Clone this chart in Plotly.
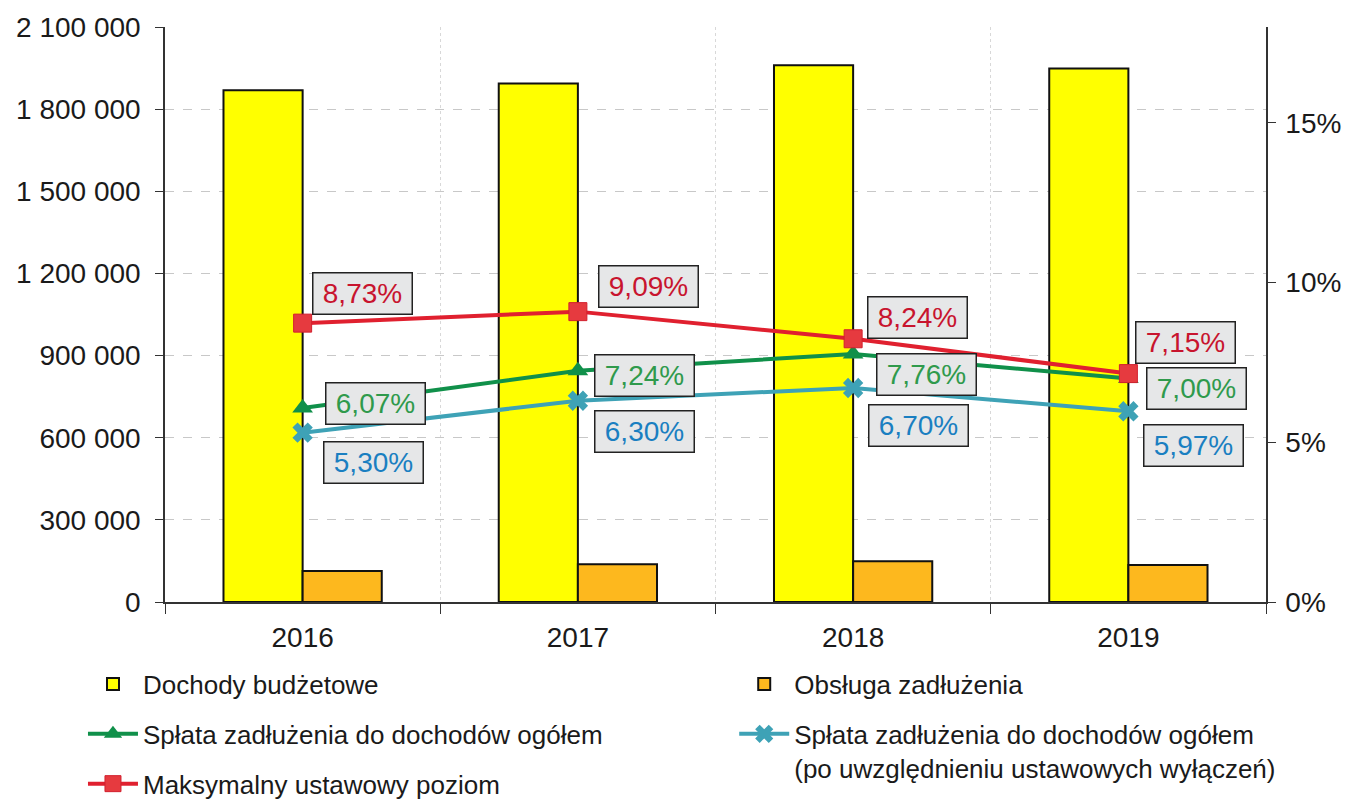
import plotly.graph_objects as go

years = ["2016", "2017", "2018", "2019"]
dochody = [1869000, 1894000, 1960000, 1948000]
obsluga = [113000, 138000, 149000, 135000]
splata = [6.07, 7.24, 7.76, 7.00]
splata_wyl = [5.30, 6.30, 6.70, 5.97]
maks = [8.73, 9.09, 8.24, 7.15]

left_ticks = [0, 300000, 600000, 900000, 1200000, 1500000, 1800000, 2100000]
right_ticks = [0, 5, 10, 15]
right_labels = [f"{v}%" for v in right_ticks]

# label offsets (px) relative to the point
red_off = [(60, 30), (71, 25), (64, 21), (57, 31)]
green_off = [(73, 5), (67, -5), (73, -20), (68, -10)]
cyan_off = [(71, -30), (67, -31), (65, -38), (65, -34)]

RED = "#e0202f"
GREEN = "#10904a"
CYAN = "#3ea2b6"
FONT = "Liberation Sans, Arial, sans-serif"

fig = go.Figure()
fig.add_trace(go.Bar(x=years, y=dochody, name="Dochody budżetowe",
                     marker=dict(color="#ffff00", line=dict(color="#111111", width=2)),
                     legend="legend", legendgroup="a"))
fig.add_trace(go.Bar(x=years, y=obsluga, name="Obsługa zadłużenia",
                     marker=dict(color="#fdb81e", line=dict(color="#111111", width=2)),
                     legend="legend2", legendgroup="b"))
fig.add_trace(go.Scatter(x=years, y=splata, yaxis="y2", mode="lines+markers",
                         name="Spłata zadłużenia do dochodów ogółem",
                         line=dict(color=GREEN, width=4),
                         marker=dict(symbol="triangle-up", size=18, color=GREEN),
                         legend="legend", legendgroup="c"))
fig.add_trace(go.Scatter(x=years, y=splata_wyl, yaxis="y2", mode="lines+markers",
                         name="Spłata zadłużenia do dochodów ogółem<br>(po uwzględnieniu ustawowych wyłączeń)",
                         line=dict(color=CYAN, width=4),
                         marker=dict(symbol="x", size=18, color=CYAN),
                         legend="legend2", legendgroup="d"))
fig.add_trace(go.Scatter(x=years, y=maks, yaxis="y2", mode="lines+markers",
                         name="Maksymalny ustawowy poziom",
                         line=dict(color=RED, width=4),
                         marker=dict(symbol="square", size=18, color="#e63a3f",
                                     line=dict(color="#d2202e", width=1)),
                         legend="legend", legendgroup="e"))

def fmt(v):
    return f"{v:.2f}".replace(".", ",") + "%"

anns = []
for vals, offs, col in [(maks, red_off, "#c8142e"), (splata, green_off, "#2f9a4c"),
                        (splata_wyl, cyan_off, "#1a7fc1")]:
    for i, (v, (dx, dy)) in enumerate(zip(vals, offs)):
        anns.append(dict(x=i, y=v, xref="x", yref="y2", text=fmt(v), showarrow=False,
                         xshift=dx, yshift=dy, width=96, height=38,
                         font=dict(family=FONT, size=28, color=col),
                         bgcolor="#e6e7e8", bordercolor="#222222", borderwidth=1.5,
                         borderpad=1))

fig.update_layout(
    width=1346, height=793,
    margin=dict(l=157, r=88, t=19, b=199, autoexpand=False),
    paper_bgcolor="white", plot_bgcolor="white",
    separators=", ",
    barmode="group", bargap=0.425, bargroupgap=0,
    font=dict(family=FONT, size=28, color="#1a1a1a"),
    annotations=anns,
    hovermode=False,
    xaxis=dict(type="category", range=[-0.5, 3.5], autorange=False,
               tickson="boundaries", ticks="outside", ticklen=10,
               tickcolor="#333", showline=True, linecolor="#333", linewidth=1.5,
               showgrid=True, gridcolor="#d8d8d8", griddash="dot", gridwidth=1,
               tickangle=0, ticklabelstandoff=10, tickfont=dict(size=28)),
    yaxis=dict(range=[0, 2100000], autorange=False, tickvals=left_ticks, tickformat=",d",
               ticks="outside", ticklen=8, tickcolor="#333", ticklabelstandoff=9,
               showline=True, linecolor="#333", linewidth=1.5,
               showgrid=True, gridcolor="#c8c8c8", griddash="dash", gridwidth=1,
               zeroline=False, tickfont=dict(size=28)),
    yaxis2=dict(range=[0, 18], autorange=False, tickvals=right_ticks, ticktext=right_labels,
                overlaying="y", side="right", ticks="outside", ticklen=8, tickcolor="#333",
                ticklabelstandoff=4,
                showline=True, linecolor="#333", linewidth=1.5, showgrid=False,
                zeroline=False, tickfont=dict(size=28)),
    legend=dict(x=-0.0745, y=-0.102, xanchor="left", yanchor="top", orientation="v",
                font=dict(size=26, color="#1a1a1a"), tracegroupgap=13,
                itemwidth=50, valign="top", bgcolor="rgba(0,0,0,0)"),
    legend2=dict(x=0.517, y=-0.102, xanchor="left", yanchor="top", orientation="v",
                 font=dict(size=26, color="#1a1a1a"), tracegroupgap=13,
                 itemwidth=50, valign="top", bgcolor="rgba(0,0,0,0)"),
)

fig.write_html("out.html")
